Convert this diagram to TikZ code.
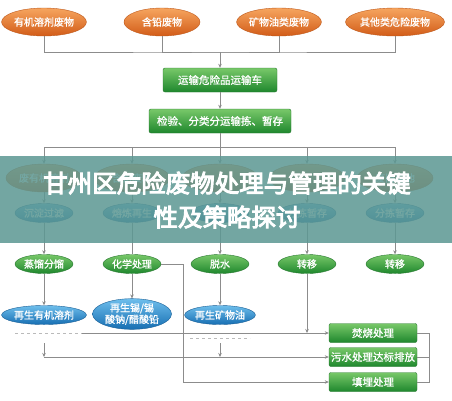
\documentclass[tikz,border=0pt]{standalone}
\usepackage{fontspec}
\setmainfont{Noto Sans CJK SC}[AutoFakeBold=1.2]
\newfontfamily\titlefont{Noto Sans CJK SC}[FakeBold=4]
\usepackage{tikz}
\usepackage{xcolor}
\usetikzlibrary{positioning, arrows.meta, shapes.geometric}
\definecolor{hzorangetop}{RGB}{246, 165, 95}
\definecolor{hzorangebot}{RGB}{210, 92, 24}
\definecolor{hzorangeline}{RGB}{190, 88, 26}
\definecolor{hzgreentop}{RGB}{120, 200, 105}
\definecolor{hzgreenbot}{RGB}{30, 135, 45}
\definecolor{hzgreenline}{RGB}{40, 120, 48}
\definecolor{hzbluetop}{RGB}{110, 190, 236}
\definecolor{hzbluebot}{RGB}{22, 110, 178}
\definecolor{hzblueline}{RGB}{25, 95, 150}
\definecolor{hzgrey}{RGB}{140, 140, 140}
\definecolor{hzteal}{RGB}{93, 152, 147}

\begin{document}
\begin{tikzpicture}[x=1pt, y=-1pt,
    every node/.style={align=center, text=white, inner sep=0pt, font=\fontsize{10}{11.5}\selectfont\bfseries},
    wastenode/.style={ellipse, draw=hzorangeline, top color=hzorangetop, bottom color=hzorangebot, minimum width=76pt, minimum height=28pt},
    prenode/.style={ellipse, draw=hzblueline, top color=hzbluetop, bottom color=hzbluebot, minimum width=58pt, minimum height=19pt},
    procnode/.style={ellipse, draw=hzgreenline, top color=hzgreentop, bottom color=hzgreenbot, minimum width=58pt, minimum height=19pt},
    prodnode/.style={ellipse, draw=hzblueline, top color=hzbluetop, bottom color=hzbluebot, minimum height=19pt},
    stagebox/.style={draw=hzgreenline, rounded corners=2pt, top color=hzgreentop, bottom color=hzgreenbot, minimum height=24pt, font=\fontsize{10.5}{12}\selectfont\bfseries},
    endbox/.style={draw=hzgreenline, rounded corners=2pt, top color=hzgreentop, bottom color=hzgreenbot, minimum width=88pt, minimum height=19pt, font=\fontsize{10.5}{12}\selectfont\bfseries},
    link/.style={draw=hzgrey, line width=0.6pt},
    flow/.style={link, -{Stealth[length=4pt, width=3.5pt]}}]
    \useasboundingbox (0,0) rectangle (452,400);
    \fill[white] (0,0) rectangle (452,400);

    % waste sources
    \node[wastenode] (src1) at (44,22) {有机溶剂废物};
    \node[wastenode] (src2) at (162,22) {含铅废物};
    \node[wastenode] (src3) at (279,22) {矿物油类废物};
    \node[wastenode] (src4) at (395,22) {其他类危险废物};

    \node[stagebox, minimum width=114pt] (truck) at (220,80) {运输危险品运输车};
    \node[stagebox, minimum width=142pt] (sort) at (220,121) {检验、分类分运输拣、暂存};

    % sorted kinds (mostly hidden by the banner)
    \node[wastenode] (kind1) at (44,178) {废有机溶剂};
    \node[wastenode] (kind2) at (132,178) {含铅废料};
    \node[wastenode] (kind3) at (220,178) {};
    \node[wastenode] (kind4) at (307,178) {};
    \node[wastenode] (kind5) at (395,178) {废旧电池};

    \node[prenode] (pre1) at (44,213) {沉淀过滤};
    \node[prenode] (pre2) at (132,213) {熔炼再生};
    \node[prenode] (pre3) at (220,213) {};
    \node[prenode] (pre4) at (307,213) {分拣暂存};
    \node[prenode] (pre5) at (395,213) {分拣暂存};

    \node[procnode] (proc1) at (44,264) {蒸馏分馏};
    \node[procnode] (proc2) at (132,264) {化学处理};
    \node[procnode] (proc3) at (220,264) {脱水};
    \node[procnode] (proc4) at (307,264) {转移};
    \node[procnode] (proc5) at (395,264) {转移};

    \node[prodnode, minimum width=78pt] (prod1) at (44,315) {再生有机溶剂};
    \node[prodnode, minimum width=79pt, minimum height=26pt] (prod2) at (132,314) {再生锡/锡\\酸钠/醋酸铅};
    \node[prodnode, minimum width=62pt] (prod3) at (220,315) {再生矿物油};

    \node[endbox] (burn) at (373,333) {焚烧处理};
    \node[endbox] (sewage) at (373,357) {污水处理达标排放};
    \node[endbox] (landfill) at (373,382) {填埋处理};

    % collecting lines
    \coordinate (topbus) at (220,52);
    \draw[link] (src1.south) |- (topbus) -| (src4.south);
    \draw[link] (src2.south) |- (topbus) -| (src3.south);
    \draw[flow] (topbus) -- (truck);
    \draw[flow] (truck) -- (sort);

    \coordinate (midbus) at (220,147);
    \draw[link] (sort) -- (midbus);
    \draw[link] (44,147) -- (395,147);
    \draw[flow] (44,147) -- (kind1);
    \draw[flow] (132,147) -- (kind2);
    \draw[flow] (midbus) -- (kind3);
    \draw[flow] (307,147) -- (kind4);
    \draw[flow] (395,147) -- (kind5);

    \draw[flow] (kind1) -- (pre1);
    \draw[flow] (kind2) -- (pre2);
    \draw[flow] (kind3) -- (pre3);
    \draw[flow] (kind4) -- (pre4);
    \draw[flow] (kind5) -- (pre5);

    \draw[flow] (pre1) -- (proc1);
    \draw[link] (pre2) -- (proc2);
    \draw[flow] (pre3) -- (proc3);
    \draw[flow] (pre4) -- (proc4);
    \draw[flow] (pre5) -- (proc5);

    \draw[flow] (proc1) -- (prod1);
    \draw[flow] (proc2) -- (prod2);
    \draw[flow] (proc3) -- (prod3);

    % routes to final treatment
    \coordinate (burnin) at (82,333);
    \coordinate (turn4) at (307,333);
    \coordinate (sewin) at (44,357);
    \coordinate (drop1) at (44,343);
    \coordinate (drop3) at (220,343);
    \coordinate (chemout) at (183,264);
    \draw[link, dashed, draw=hzgrey!60] (15,333) -- (burnin);
    \draw[link, dashed, draw=hzgrey!60] (190,338) -- (250,338);
    \draw[flow] (burnin) -- (burn);
    \draw[flow] (proc4) -- (turn4);
    \draw[flow] (drop1) -- (sewin);
    \draw[flow] (drop3) -- (220,357);
    \draw[flow] (sewin) -- (sewage);
    \draw[flow] (proc2.east) -- (chemout) |- (landfill);
    \draw[link] (burn.east) -- ++(12,0) |- (landfill.east);
    \draw[link] (sewage.east) -- ++(12,0);

    % banner
    \fill[hzteal, opacity=0.86] (0,156) rectangle (452,243);
    \node[font=\titlefont\fontsize{24.5}{34}\selectfont] (title) at (227,200)
      {甘州区危险废物处理与管理的关键\\性及策略探讨};
\end{tikzpicture}
\end{document}
